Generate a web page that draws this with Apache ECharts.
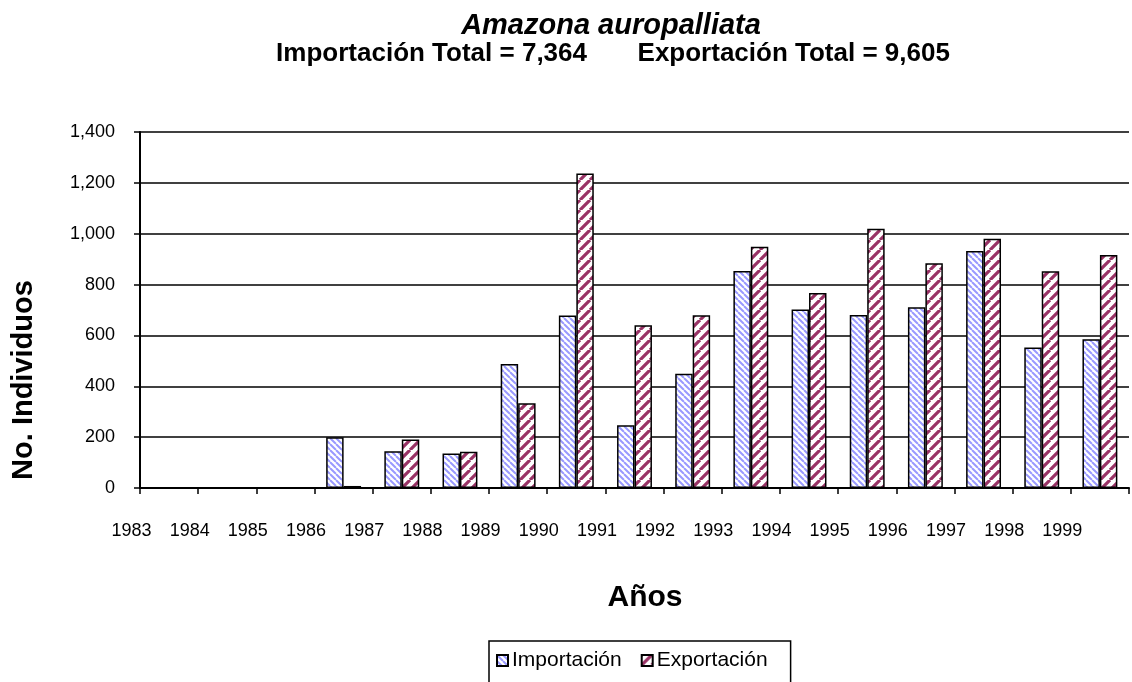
<!DOCTYPE html>
<html>
<head>
<meta charset="utf-8">
<script src="https://cdn.jsdelivr.net/npm/echarts@6/dist/echarts.min.js"></script>
<style>
  html, body { margin: 0; padding: 0; background: #ffffff; }
  #chart { width: 1132px; height: 682px; }
</style>
</head>
<body>
<div id="chart"></div>
<script>
// ---- Data ----
const years = ['1983','1984','1985','1986','1987','1988','1989','1990','1991','1992','1993','1994','1995','1996','1997','1998','1999'];
const importacion = [0, 0, 0, 200, 145, 136, 488, 678, 247, 449, 853, 702, 680, 711, 932, 553, 585];
const exportacion = [0, 0, 0, 8, 191, 143, 333, 1237, 640, 679, 949, 767, 1020, 884, 980, 852, 916];
const yTicks = { min: 0, max: 1400, interval: 200 };
const titleLine1 = 'Amazona auropalliata';
const titleLine2 = 'Importación Total = 7,364       Exportación Total = 9,605';
const yTitle = 'No. Individuos';
const xTitle = 'Años';

// ---- Pattern tiles ----
function makeTile(size, color, lineWidth, dir) {
  const c = document.createElement('canvas');
  c.width = size; c.height = size;
  const ctx = c.getContext('2d');
  ctx.fillStyle = '#ffffff';
  ctx.fillRect(0, 0, size, size);
  ctx.strokeStyle = color;
  ctx.lineWidth = lineWidth;
  ctx.beginPath();
  for (const o of [-size, 0, size]) {
    if (dir === 'back') { ctx.moveTo(o, 0); ctx.lineTo(o + size, size); }
    else { ctx.moveTo(o, size); ctx.lineTo(o + size, 0); }
  }
  ctx.stroke();
  return c;
}
const impTile = makeTile(6, '#9999ff', 2, 'back');
const expTile = makeTile(10, '#993366', 3.2, 'fwd');

const FONT = '"Liberation Sans", Arial, sans-serif';
const labelAxisData = years.concat(['']);

const chart = echarts.init(document.getElementById('chart'), null, { renderer: 'canvas' });
chart.setOption({
  animation: false,
  backgroundColor: '#ffffff',
  title: [
    { text: titleLine1, left: 606, top: 6, textAlign: 'center',
      textStyle: { fontFamily: FONT, fontSize: 29, fontWeight: 'bold', fontStyle: 'italic', color: '#000' } },
    { text: titleLine2, left: 608, top: 36, textAlign: 'center',
      textStyle: { fontFamily: FONT, fontSize: 26, fontWeight: 'bold', color: '#000' } }
  ],
  graphic: [
    { type: 'text', x: 24, y: 380, rotation: Math.PI / 2,
      style: { text: yTitle, font: 'bold 29px "Liberation Sans", Arial, sans-serif', fill: '#000',
        align: 'center', verticalAlign: 'middle' } },
    { type: 'text', x: 645, y: 598,
      style: { text: xTitle, font: 'bold 30px "Liberation Sans", Arial, sans-serif', fill: '#000',
        align: 'center', verticalAlign: 'middle' } }
  ],
  legend: {
    left: 489, top: 641,
    padding: [9, 23, 24, 7],
    itemGap: 19,
    itemWidth: 11, itemHeight: 11,
    icon: 'rect',
    borderColor: '#000', borderWidth: 1.5,
    textStyle: { fontFamily: FONT, fontSize: 21, color: '#000', padding: [0, 0, 0, -1] },
    data: ['Importación', 'Exportación']
  },
  grid: { left: 140, top: 132, width: 1000, height: 356 },
  xAxis: [
    {
      type: 'category', data: years, boundaryGap: true,
      axisLine: { lineStyle: { color: '#000', width: 2 } },
      axisTick: { show: true, interval: 0, length: 6, lineStyle: { color: '#000', width: 1.5 } },
      axisLabel: { show: false }
    },
    {
      type: 'category', data: labelAxisData, boundaryGap: false, position: 'bottom',
      axisLine: { show: false }, axisTick: { show: false },
      axisLabel: { interval: 0, margin: 34, padding: [0, 17, 0, 0],
        fontFamily: FONT, fontSize: 18, color: '#000' }
    }
  ],
  yAxis: {
    type: 'value', min: yTicks.min, max: yTicks.max, interval: yTicks.interval,
    axisLine: { show: true, lineStyle: { color: '#000', width: 2 } },
    axisTick: { show: true, length: 6, lineStyle: { color: '#000', width: 1.5 } },
    splitLine: { show: true, lineStyle: { color: '#000', width: 1.5 } },
    axisLabel: { margin: 25, fontFamily: FONT, fontSize: 18, color: '#000',
      formatter: v => v.toLocaleString('en-US') }
  },
  series: [
    { name: 'Importación', type: 'bar', xAxisIndex: 0, data: importacion,
      barGap: '0%', barCategoryGap: '40%',
      itemStyle: { color: { image: impTile, repeat: 'repeat' }, borderColor: '#000', borderWidth: 1.5 } },
    { name: 'Exportación', type: 'bar', xAxisIndex: 0, data: exportacion,
      barGap: '0%', barCategoryGap: '40%',
      itemStyle: { color: { image: expTile, repeat: 'repeat' }, borderColor: '#000', borderWidth: 1.5 } }
  ]
});
</script>
</body>
</html>
